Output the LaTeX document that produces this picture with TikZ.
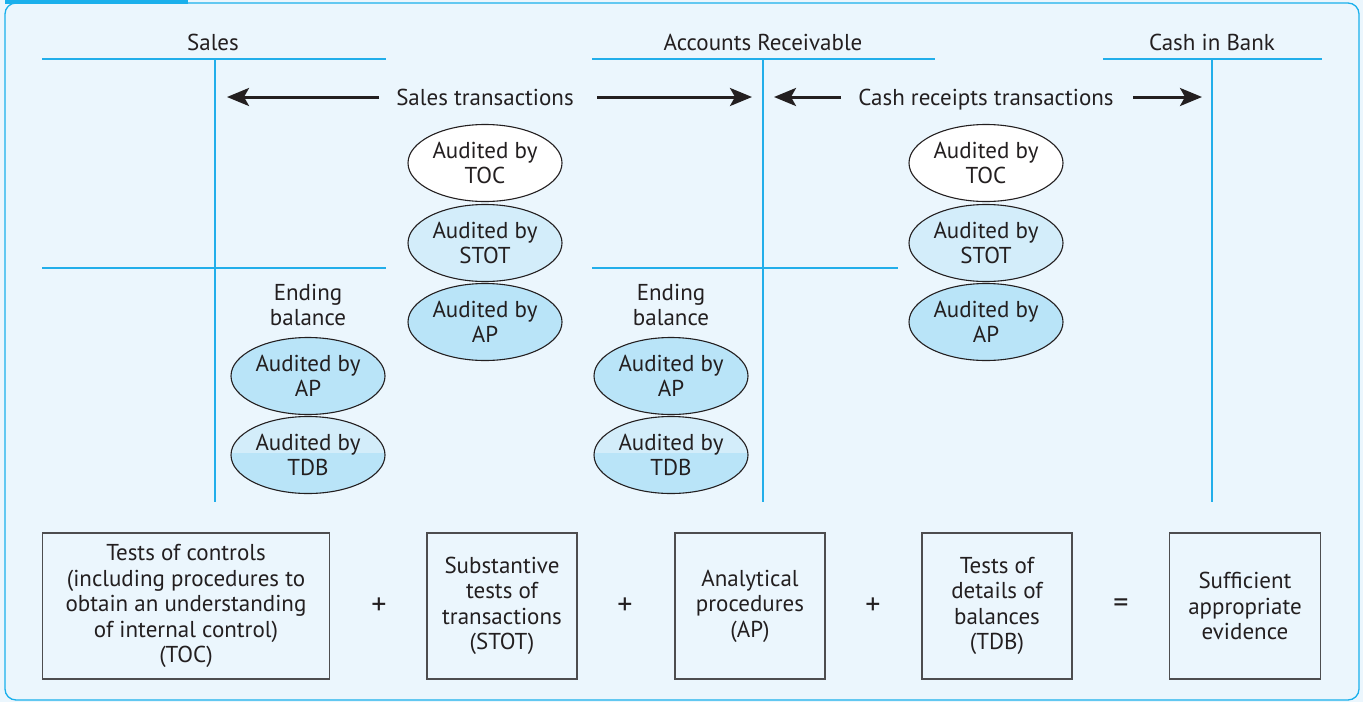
\documentclass[tikz,border=0pt]{standalone}
\usepackage{fontspec}
\setmainfont{PT Sans}
\usetikzlibrary{shapes.geometric,arrows.meta}
\definecolor{bg}{HTML}{EBF6FD}
\definecolor{frameblue}{HTML}{1AB0EC}
\definecolor{lineblue}{HTML}{22AEEA}
\definecolor{txt}{HTML}{231F20}
\definecolor{boxline}{HTML}{4D4D4F}
\definecolor{lightfill}{HTML}{D3EDFA}
\definecolor{apfill}{HTML}{B9E4F8}
\tikzset{
  every node/.style={text=txt,font=\fontsize{23}{25.5}\selectfont},
  tline/.style={draw=lineblue,line width=1.3pt},
  arr/.style={draw=txt,line width=3pt,-{Stealth[length=22pt,width=18pt,inset=5pt]}},
  ell/.style={ellipse,draw=txt,line width=1.1pt,minimum width=154pt,minimum height=77pt,inner sep=0pt,align=center},
  toc/.style={ell,fill=white},
  stot/.style={ell,fill=lightfill},
  ap/.style={ell,fill=apfill},
  tdb/.style={ell,fill=lightfill,path picture={\fill[apfill] ([yshift=2pt]path picture bounding box.west) rectangle (path picture bounding box.south east);}},
  box/.style={draw=boxline,line width=1.5pt,fill=bg,align=center,minimum height=146pt,inner sep=0pt},
  lbl/.style={align=center},
  op/.style={font=\fontsize{30}{30}\selectfont},
  hdr/.style={anchor=base}
}
\begin{document}
\begin{tikzpicture}[x=1pt,y=-1pt]
\useasboundingbox (0,0) rectangle (1363,702);
% frame
\fill[bg] (0,0) rectangle (1363,702);
\draw[frameblue,line width=1.3pt,rounded corners=11pt] (5,3) -- (5,700) -- (1359,700) -- (1359,3) -- cycle;
\fill[frameblue] (5,-1) rectangle (188,4);
% T-accounts
\node[hdr] (salesT) at (213,50) {Sales};
\node[hdr] (arT) at (763,50) {Accounts Receivable};
\node[hdr] (cashT) at (1212,50) {Cash in Bank};
\coordinate (s1) at (42,59); \coordinate (s2) at (386,59);
\coordinate (sv1) at (215,59); \coordinate (sv2) at (215,502);
\coordinate (s3) at (42,268); \coordinate (s4) at (386,268);
\coordinate (a1) at (592,59); \coordinate (a2) at (935,59);
\coordinate (av1) at (763,59); \coordinate (av2) at (763,502);
\coordinate (a3) at (592,268); \coordinate (a4) at (898,268);
\coordinate (c1) at (1103,59); \coordinate (c2) at (1322,59);
\coordinate (cv1) at (1212,59); \coordinate (cv2) at (1212,502);
\draw[tline] (s1) -- (s2); \draw[tline] (sv1) -- (sv2); \draw[tline] (s3) -- (s4);
\draw[tline] (a1) -- (a2); \draw[tline] (av1) -- (av2); \draw[tline] (a3) -- (a4);
\draw[tline] (c1) -- (c2); \draw[tline] (cv1) -- (cv2);
% transaction arrows
\node[hdr] (st) at (485,105) {Sales transactions};
\coordinate (stLs) at (379,97); \coordinate (stL) at (227,97);
\coordinate (stRs) at (597,97); \coordinate (stR) at (752,97);
\draw[arr] (stLs) -- (stL);
\draw[arr] (stRs) -- (stR);
\node[hdr] (ct) at (986,105) {Cash receipts transactions};
\coordinate (ctLs) at (841,97); \coordinate (ctL) at (774,97);
\coordinate (ctRs) at (1133,97); \coordinate (ctR) at (1202,97);
\draw[arr] (ctLs) -- (ctL);
\draw[arr] (ctRs) -- (ctR);
% ellipses, transactions
\node[toc] (e1) at (485,163) {Audited by\\TOC};
\node[stot] (e2) at (485,243) {Audited by\\STOT};
\node[ap] (e3) at (485,322) {Audited by\\AP};
\node[toc] (f1) at (986,163) {Audited by\\TOC};
\node[stot] (f2) at (986,243) {Audited by\\STOT};
\node[ap] (f3) at (986,322) {Audited by\\AP};
% ending balances
\node[lbl] (eb1) at (308,305) {Ending\\balance};
\node[ap] (g1) at (308,376) {Audited by\\AP};
\node[tdb] (g2) at (308,455) {Audited by\\TDB};
\node[lbl] (eb2) at (671,305) {Ending\\balance};
\node[ap] (h1) at (671,376) {Audited by\\AP};
\node[tdb] (h2) at (671,455) {Audited by\\TDB};
% bottom boxes
\node[box,minimum width=287pt] (b1) at (186,606) {Tests of controls\\(including procedures to\\obtain an understanding\\of internal control)\\(TOC)};
\node[op] (p1) at (379,606) {+};
\node[box,minimum width=150pt] (b2) at (502,606) {Substantive\\tests of\\transactions\\(STOT)};
\node[op] (p2) at (625,606) {+};
\node[box,minimum width=150pt] (b3) at (750,606) {Analytical\\procedures\\(AP)};
\node[op] (p3) at (873,606) {+};
\node[box,minimum width=150pt] (b4) at (997,606) {Tests of\\details of\\balances\\(TDB)};
\node[op] (eq) at (1121,606) {=};
\node[box,minimum width=151pt] (b5) at (1245,606) {Sufficient\\appropriate\\evidence};
\end{tikzpicture}
\end{document}
